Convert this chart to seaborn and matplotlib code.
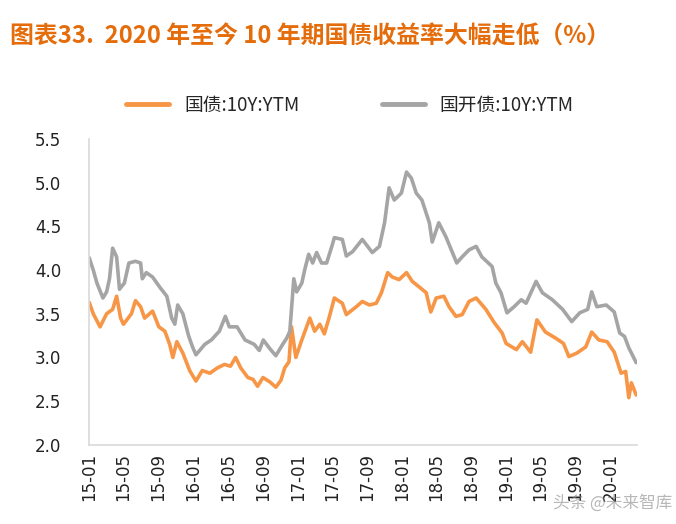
import pandas as pd
import matplotlib.pyplot as plt
import matplotlib.dates as mdates
import seaborn as sns

# 国债 10Y YTM
cgb_dates = ['2015-01-01', '2015-01-15', '2015-02-08', '2015-03-03', '2015-03-24', '2015-04-07',
             '2015-04-21', '2015-05-01', '2015-05-29', '2015-06-12', '2015-06-30', '2015-07-14',
             '2015-08-11', '2015-09-02', '2015-09-23', '2015-10-10', '2015-10-21', '2015-11-04',
             '2015-11-25', '2015-12-19', '2016-01-10', '2016-02-01', '2016-02-28', '2016-03-25',
             '2016-04-19', '2016-05-10', '2016-05-28', '2016-06-15', '2016-07-10', '2016-07-28',
             '2016-08-13', '2016-09-01', '2016-09-25', '2016-10-16', '2016-11-03', '2016-11-16',
             '2016-12-01', '2016-12-10', '2016-12-25', '2017-01-15', '2017-02-12', '2017-03-01',
             '2017-03-19', '2017-04-04', '2017-04-22', '2017-05-09', '2017-06-06', '2017-06-20',
             '2017-07-25', '2017-08-15', '2017-09-09', '2017-10-03', '2017-10-21', '2017-11-12',
             '2017-11-28', '2017-12-22', '2018-01-17', '2018-02-06', '2018-03-01', '2018-03-27',
             '2018-04-12', '2018-05-01', '2018-05-28', '2018-06-15', '2018-07-09', '2018-07-31',
             '2018-08-24', '2018-09-18', '2018-10-22', '2018-11-20', '2018-12-18', '2019-01-01',
             '2019-02-06', '2019-02-27', '2019-03-28', '2019-04-19', '2019-05-19', '2019-06-24',
             '2019-07-21', '2019-08-09', '2019-09-06', '2019-10-07', '2019-10-28', '2019-11-22',
             '2019-12-21', '2020-01-15', '2020-02-08', '2020-02-24', '2020-03-06', '2020-03-15',
             '2020-04-01']
cgb = [3.63, 3.50, 3.35, 3.50, 3.55, 3.70, 3.45, 3.38, 3.50, 3.65, 3.58, 3.45,
       3.53, 3.35, 3.30, 3.15, 3.00, 3.18, 3.05, 2.85, 2.73, 2.85, 2.82, 2.88,
       2.92, 2.90, 3.00, 2.88, 2.77, 2.75, 2.67, 2.77, 2.72, 2.66, 2.74, 2.88,
       2.95, 3.35, 3.00, 3.20, 3.45, 3.30, 3.38, 3.27, 3.47, 3.68, 3.62, 3.49,
       3.58, 3.64, 3.60, 3.62, 3.74, 3.97, 3.92, 3.89, 3.97, 3.87, 3.81, 3.74,
       3.52, 3.68, 3.70, 3.58, 3.47, 3.49, 3.64, 3.68, 3.55, 3.40, 3.28, 3.16,
       3.09, 3.18, 3.06, 3.43, 3.29, 3.22, 3.16, 3.01, 3.05, 3.12, 3.29, 3.20,
       3.18, 3.06, 2.82, 2.84, 2.54, 2.71, 2.57]

# 国开债 10Y YTM
cdb_dates = ['2015-01-01', '2015-01-15', '2015-01-28', '2015-02-18', '2015-03-03', '2015-03-13',
             '2015-03-24', '2015-04-07', '2015-04-17', '2015-05-04', '2015-05-20', '2015-06-12',
             '2015-06-30', '2015-07-06', '2015-07-20', '2015-08-11', '2015-09-06', '2015-09-30',
             '2015-10-17', '2015-10-28', '2015-11-07', '2015-11-25', '2015-12-15', '2015-12-29',
             '2016-01-10', '2016-02-10', '2016-03-04', '2016-04-01', '2016-04-22', '2016-05-06',
             '2016-06-02', '2016-06-30', '2016-08-01', '2016-08-19', '2016-09-02', '2016-09-25',
             '2016-10-16', '2016-11-09', '2016-11-23', '2016-12-04', '2016-12-18', '2016-12-28',
             '2017-01-15', '2017-01-25', '2017-02-08', '2017-02-22', '2017-03-08', '2017-03-25',
             '2017-04-12', '2017-05-03', '2017-05-09', '2017-06-06', '2017-06-20', '2017-07-12',
             '2017-08-15', '2017-09-19', '2017-10-14', '2017-11-01', '2017-11-17', '2017-12-05',
             '2017-12-30', '2018-01-17', '2018-02-03', '2018-02-20', '2018-03-12', '2018-04-07',
             '2018-04-17', '2018-05-10', '2018-06-04', '2018-07-12', '2018-07-31', '2018-08-24',
             '2018-09-18', '2018-10-08', '2018-11-13', '2018-11-26', '2018-12-14', '2019-01-04',
             '2019-01-29', '2019-02-23', '2019-03-12', '2019-04-16', '2019-05-08', '2019-06-12',
             '2019-07-18', '2019-08-19', '2019-09-16', '2019-10-14', '2019-10-28', '2019-11-15',
             '2019-12-18', '2020-01-15', '2020-02-03', '2020-02-20', '2020-03-06', '2020-04-01']
cdb = [4.14, 4.00, 3.85, 3.68, 3.75, 3.90, 4.25, 4.15, 3.78, 3.85, 4.08, 4.10,
       4.08, 3.90, 3.97, 3.92, 3.80, 3.70, 3.45, 3.38, 3.60, 3.50, 3.25, 3.12,
       3.03, 3.15, 3.20, 3.30, 3.47, 3.35, 3.35, 3.20, 3.15, 3.08, 3.20, 3.10,
       3.02, 3.15, 3.22, 3.30, 3.90, 3.75, 3.85, 4.00, 4.18, 4.08, 4.20, 4.08,
       4.08, 4.30, 4.37, 4.35, 4.16, 4.21, 4.35, 4.20, 4.27, 4.54, 4.94, 4.80,
       4.88, 5.12, 5.05, 4.88, 4.80, 4.54, 4.32, 4.54, 4.38, 4.08, 4.15, 4.23,
       4.27, 4.15, 4.04, 3.85, 3.74, 3.51, 3.58, 3.66, 3.62, 3.87, 3.74, 3.66,
       3.55, 3.41, 3.51, 3.55, 3.75, 3.58, 3.60, 3.52, 3.28, 3.24, 3.11, 2.94]

names = ['国债:10Y:YTM', '国开债:10Y:YTM']
colors = ['#F79646', '#A5A5A5']

df = pd.concat([
    pd.DataFrame({'date': pd.to_datetime(cgb_dates), 'value': cgb, 'series': names[0]}),
    pd.DataFrame({'date': pd.to_datetime(cdb_dates), 'value': cdb, 'series': names[1]}),
])

sns.set_style('white')
plt.rcParams['font.family'] = ['DejaVu Sans', 'Noto Sans CJK SC']

fig = plt.figure(figsize=(6.76, 5.24), dpi=100)
ax = fig.add_axes([0.132, 0.151, 0.810, 0.584])

sns.lineplot(data=df, x='date', y='value', hue='series', palette=dict(zip(names, colors)),
             linewidth=2.6, ax=ax)

ax.set_ylim(2.0, 5.5)
ax.set_yticks([2.0, 2.5, 3.0, 3.5, 4.0, 4.5, 5.0, 5.5])
ax.set_yticklabels(['%.1f' % v for v in ax.get_yticks()])
ax.set_xlim(pd.Timestamp('2015-01-01'), pd.Timestamp('2020-04-03'))
ax.xaxis.set_major_locator(mdates.MonthLocator(bymonth=[1, 5, 9]))
ax.xaxis.set_major_formatter(mdates.DateFormatter('%y-%m'))
ax.set_xlabel('')
ax.set_ylabel('')

for s in ['top', 'right']:
    ax.spines[s].set_visible(False)
for s in ['left', 'bottom']:
    ax.spines[s].set_color('#D9D9D9')
    ax.spines[s].set_linewidth(1.2)
ax.tick_params(axis='x', direction='in', length=5, color='#D9D9D9', labelrotation=90,
               labelsize=12, labelcolor='#222222', pad=6)
ax.tick_params(axis='y', length=0, labelsize=12, labelcolor='#222222', pad=20)

ax.legend(loc='upper center', bbox_to_anchor=(0.476, 1.2), ncol=2, frameon=False,
          handlelength=2.3, columnspacing=4.4, handletextpad=0.8,
          prop={'family': ['Noto Sans CJK SC'], 'size': 13.5})
for h in ax.get_legend().get_lines():
    h.set_linewidth(3.5)

fig.text(0.015, 0.93, '图表33.  2020 年至今 10 年期国债收益率大幅走低（%）',
         color='#E46C0A', fontsize=17.2, fontweight='bold', va='center',
         family=['Noto Sans CJK SC'])
fig.text(0.995, 0.04, '头条 @未来智库', color='#888888', alpha=0.6, fontsize=12,
         ha='right', va='center', family=['Noto Sans CJK SC'])

fig.savefig('out.png', dpi=100)
